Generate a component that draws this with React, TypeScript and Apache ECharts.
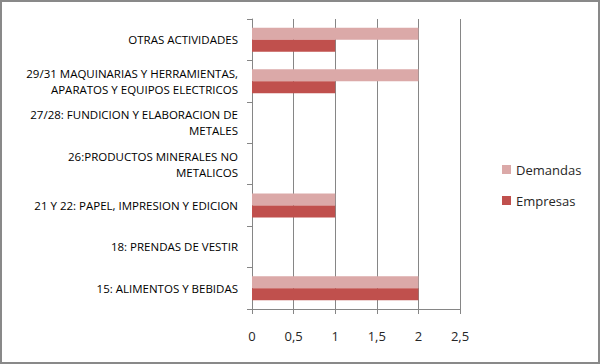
import React, { useEffect, useRef } from "react";
import * as echarts from "echarts";

const categories = [
  "15: ALIMENTOS Y BEBIDAS",
  "18: PRENDAS DE VESTIR",
  "21 Y 22: PAPEL, IMPRESION Y EDICION",
  "26:PRODUCTOS MINERALES NO\nMETALICOS",
  "27/28: FUNDICION Y ELABORACION DE\nMETALES",
  "29/31 MAQUINARIAS Y HERRAMIENTAS,\nAPARATOS Y EQUIPOS ELECTRICOS",
  "OTRAS ACTIVIDADES",
];
const empresas = [2, 0, 1, 0, 0, 1, 1];
const demandas = [2, 0, 1, 0, 0, 2, 2];
const legendOrder = ["Demandas", "Empresas"];

export default function App() {
  const ref = useRef<HTMLDivElement>(null);
  useEffect(() => {
    document.body.style.margin = "0";
    const chart = echarts.init(ref.current!, undefined, { renderer: "svg" });
    chart.setOption({
      animation: false,
      backgroundColor: "#ffffff",
      graphic: [
        {
          type: "rect",
          shape: { x: 1, y: 1, width: 598, height: 362 },
          style: { fill: "none", stroke: "#898989", lineWidth: 2 },
          silent: true,
        },
      ],
      grid: { left: 252, right: 140, top: 19, bottom: 55 },
      legend: {
        data: legendOrder,
        orient: "vertical",
        left: 497,
        top: 158,
        itemWidth: 9,
        itemHeight: 9,
        itemGap: 18,
        icon: "rect",
        textStyle: { fontFamily: "Open Sans", fontSize: 13, color: "#262626" },
      },
      xAxis: {
        type: "value",
        min: 0,
        max: 2.5,
        interval: 0.5,
        axisLine: { show: true, lineStyle: { color: "#868686" } },
        axisTick: { show: true, length: 5, lineStyle: { color: "#868686" } },
        splitLine: { show: true, lineStyle: { color: "#868686" } },
        axisLabel: {
          margin: 20,
          fontFamily: "Open Sans",
          fontSize: 13,
          color: "#262626",
          formatter: (v: number) => String(v).replace(".", ","),
        },
      },
      yAxis: {
        type: "category",
        data: categories,
        axisLine: { show: true, lineStyle: { color: "#868686" } },
        axisTick: { show: true, length: 5, lineStyle: { color: "#868686" } },
        axisLabel: {
          margin: 14,
          fontFamily: "Open Sans",
          fontSize: 11.5,
          fontWeight: "normal",
          lineHeight: 16,
          color: "#000000",
          align: "right",
        },
      },
      series: [
        {
          name: "Demandas",
          type: "bar",
          data: demandas,
          barCategoryGap: "42%",
          barGap: "0%",
          itemStyle: { color: "#DBA9A8" },
        },
        {
          name: "Empresas",
          type: "bar",
          data: empresas,
          barCategoryGap: "42%",
          barGap: "0%",
          itemStyle: { color: "#C0504D" },
        },
      ],
    });
    return () => chart.dispose();
  }, []);
  return <div ref={ref} style={{ width: 600, height: 364 }} />;
}
